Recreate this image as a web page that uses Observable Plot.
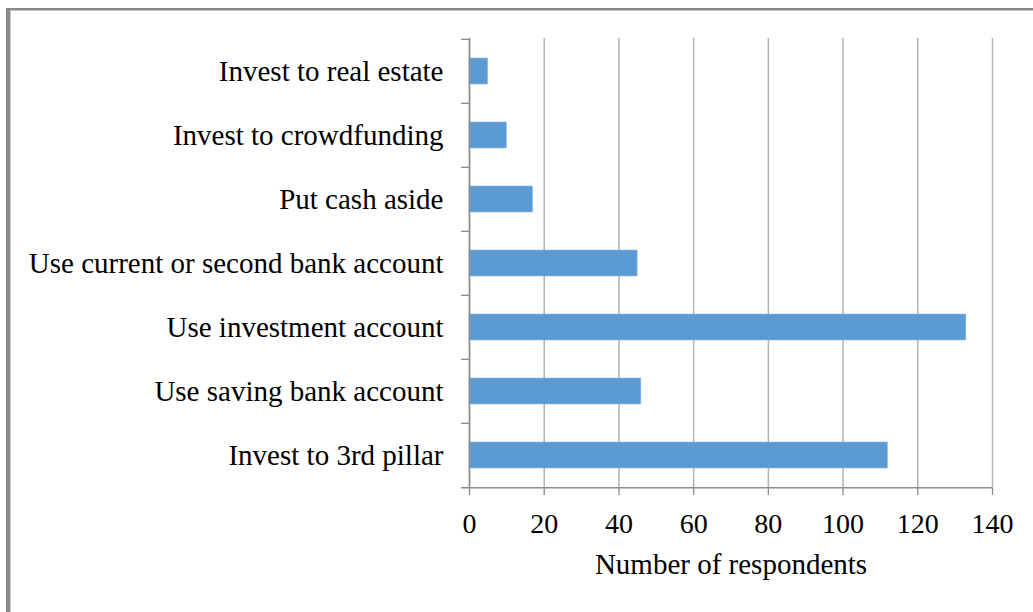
<!DOCTYPE html>
<html><head><meta charset="utf-8">
<script src="https://cdn.jsdelivr.net/npm/d3@7"></script>
<script src="https://cdn.jsdelivr.net/npm/@observablehq/plot@0.6"></script>
<style>
body{margin:0;background:#fff;}
#wrap{position:relative;width:1033px;height:612px;overflow:hidden;background:#fff;}
#frame{position:absolute;left:6px;top:8px;right:-10px;bottom:-10px;border-left:4px solid #8a8a8a;border-top:2px solid #8a8a8a;box-shadow:inset 1px 1px 0 #c8c8c8;pointer-events:none;}
#chart{position:absolute;left:0;top:0;}
</style></head>
<body><div id="wrap"><div id="chart"></div><div id="frame"></div></div>
<script>
// categories top to bottom
const categories = [
  "Invest to real estate",
  "Invest to crowdfunding",
  "Put cash aside",
  "Use current or second bank account",
  "Use investment account",
  "Use saving bank account",
  "Invest to 3rd pillar"
];
const counts = [5, 10, 17, 45, 133, 46, 112];
const xTicks = [0, 20, 40, 60, 80, 100, 120, 140];
const xLabel = "Number of respondents";

const data = categories.map((c, i) => ({category: c, count: counts[i]}));

const W = 1033, H = 612, mt = 38, mb = 124, ml = 469, mr = 41;
const step = (H - mt - mb) / categories.length;
const axisColor = "#8c8c8c";

const chart = Plot.plot({
  width: W, height: H,
  marginTop: mt, marginBottom: mb, marginLeft: ml, marginRight: mr,
  style: {fontFamily: "'Liberation Serif', 'Times New Roman', serif", fontSize: "28px", color: "#000", background: "transparent", overflow: "visible"},
  x: {domain: [0, 140]},
  y: {domain: categories, paddingInner: 0.6, paddingOuter: 0.3},
  marks: [
    Plot.gridX({ticks: xTicks, stroke: "#b3b3b3", strokeOpacity: 1, strokeWidth: 1.5}),
    Plot.barX(data, {x: "count", y: "category", fill: "#5b9bd5", stroke: "#8fbbe6", strokeWidth: 0.6}),
    Plot.axisY({tickSize: 0, tickPadding: 26, fontSize: 29, fill: "#000", label: null}),
    Plot.axisY({tickSize: 8, tickFormat: () => "", dy: -step / 2, stroke: axisColor, strokeWidth: 1.3, label: null}),
    Plot.ruleX([0], {stroke: axisColor, strokeWidth: 1.5}),
    Plot.ruleY([categories[categories.length - 1]], {dy: step / 2, insetLeft: -8, stroke: axisColor, strokeWidth: 1.5}),
    Plot.axisX({ticks: xTicks, tickSize: 7, tickPadding: 18, stroke: axisColor, strokeWidth: 1.3, fontSize: 28, fill: "#000", label: null}),
    Plot.text([xLabel], {frameAnchor: "bottom", dy: 85, fontSize: 29, fill: "#000"})
  ]
});
document.getElementById("chart").appendChild(chart);
</script>
</body></html>
